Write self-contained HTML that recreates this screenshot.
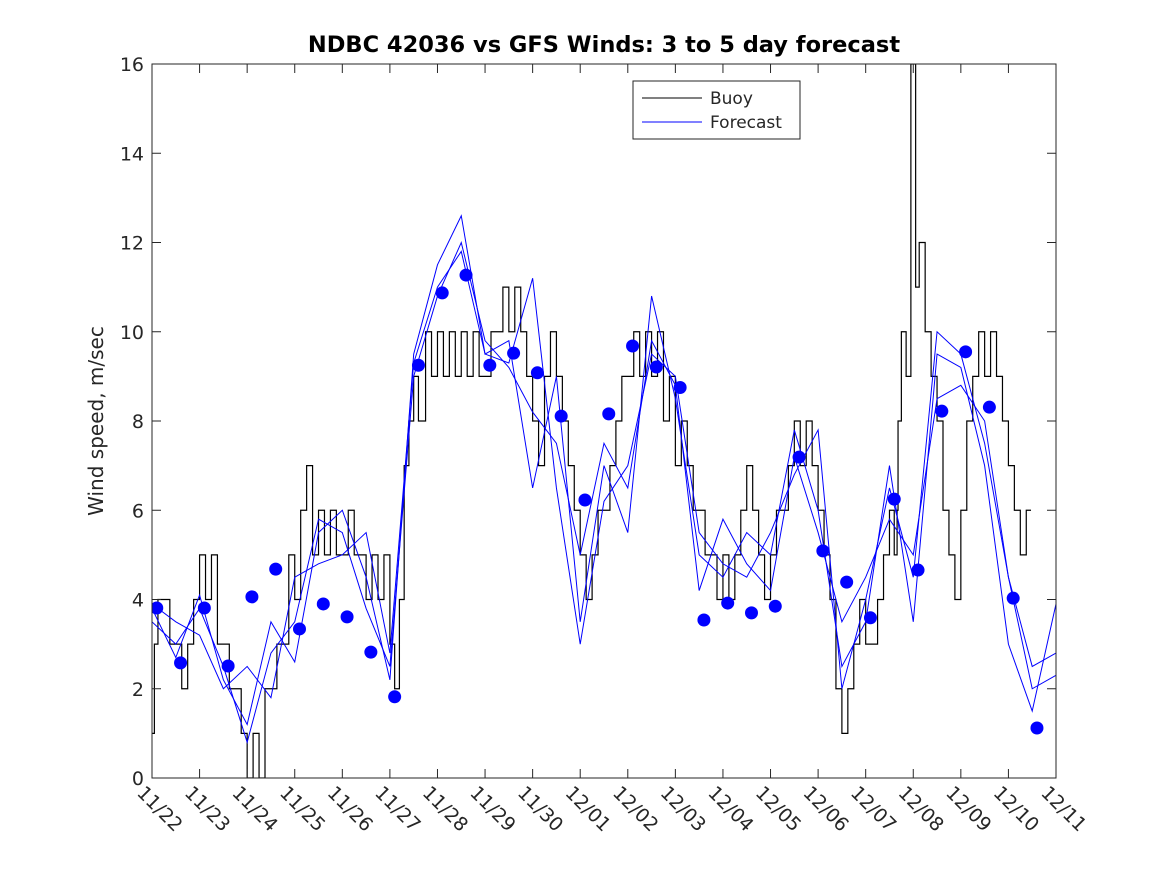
<!DOCTYPE html>
<html><head><meta charset="utf-8"><style>
body{margin:0;background:#fff;}
svg{display:block;font-family:"DejaVu Sans","Liberation Sans",sans-serif;}
</style></head><body>
<svg id="chart" width="1167" height="875">
<rect x="0" y="0" width="1167" height="875" fill="#fff"/>
<text x="604" y="52" text-anchor="middle" font-size="22.5" font-weight="bold">NDBC 42036 vs GFS Winds: 3 to 5 day forecast</text>
<text transform="translate(103,421) rotate(-90)" text-anchor="middle" font-size="20" fill="#262626">Wind speed, m/sec</text>
<g id="plot"></g>
<g id="axes"></g>
<g>
<rect x="633" y="81" width="167" height="58" fill="#fff" stroke="#262626" stroke-width="1"/>
<line x1="642" y1="98" x2="702" y2="98" stroke="#000" stroke-width="1"/>
<text x="710" y="104" font-size="17" fill="#262626">Buoy</text>
<line x1="642" y1="122" x2="702" y2="122" stroke="#0000ff" stroke-width="1"/>
<text x="710" y="128" font-size="17" fill="#262626">Forecast</text>
</g>
</svg>
<script>
const xTickLabels=["11/22","11/23","11/24","11/25","11/26","11/27","11/28","11/29","11/30","12/01","12/02","12/03","12/04","12/05","12/06","12/07","12/08","12/09","12/10","12/11"];
const yTicks=[0,2,4,6,8,10,12,14,16];
const dotTimes=[0.1,0.6,1.1,1.6,2.1,2.6,3.1,3.6,4.1,4.6,5.1,5.6,6.1,6.6,7.1,7.6,8.1,8.6,9.1,9.6,10.1,10.6,11.1,11.6,12.1,12.6,13.1,13.6,14.1,14.6,15.1,15.6,16.1,16.6,17.1,17.6,18.1,18.6];
const dotValues=[3.81,2.58,3.81,2.51,4.06,4.68,3.34,3.9,3.61,2.82,1.82,9.25,10.87,11.27,9.25,9.52,9.08,8.11,6.23,8.16,9.68,9.21,8.75,3.54,3.92,3.7,3.85,7.19,5.09,4.39,3.59,6.25,4.66,8.22,9.55,8.31,4.03,1.12];
const buoyTimes=[0,0.05,0.125,0.25,0.375,0.5,0.625,0.75,0.875,1.0,1.125,1.25,1.375,1.5,1.625,1.75,1.875,2.0,2.125,2.25,2.375,2.5,2.625,2.75,2.875,3.0,3.125,3.25,3.375,3.5,3.625,3.75,3.875,4.0,4.125,4.25,4.375,4.5,4.625,4.75,4.875,5.0,5.1,5.2,5.3,5.4,5.5,5.6,5.75,5.875,6.0,6.125,6.25,6.375,6.5,6.625,6.75,6.875,7.0,7.125,7.25,7.375,7.5,7.625,7.75,7.875,8.0,8.125,8.25,8.375,8.5,8.625,8.75,8.875,9.0,9.125,9.25,9.375,9.5,9.625,9.75,9.875,10.0,10.125,10.25,10.375,10.5,10.625,10.75,10.875,11.0,11.125,11.25,11.375,11.5,11.625,11.75,11.875,12.0,12.125,12.25,12.375,12.5,12.625,12.75,12.875,13.0,13.125,13.25,13.375,13.5,13.625,13.75,13.875,14.0,14.125,14.25,14.375,14.5,14.625,14.75,14.875,15.0,15.125,15.25,15.375,15.5,15.6,15.66,15.68,15.75,15.85,15.95,16.05,16.125,16.25,16.375,16.5,16.625,16.75,16.875,17.0,17.125,17.25,17.375,17.5,17.625,17.75,17.875,18.0,18.125,18.25,18.375];
const buoyValues=[1,3,4,4,3,3,2,3,4,5,4,5,3,3,2,2,1,0,1,0,2,2,3,3,5,4,6,7,5,6,5,6,5,5,6,5,5,4,5,4,5,3,2,4,7,8,9,8,10,9,10,9,10,9,10,9,10,9,9,10,10,11,10,11,10,9,8,7,9,10,9,8,7,6,5,4,5,6,6,7,8,9,9,10,9,10,9,10,8,9,7,8,7,6,6,5,5,4,5,4,5,6,7,6,5,4,5,6,6,7,8,7,8,7,6,5,4,2,1,2,3,4,3,3,4,5,6,5,6,8,10,9,16,11,12,10,9,8,6,5,4,6,8,9,10,9,10,9,8,7,6,5,6,5,4];
const f1Times=[0,0.5,1,1.5,2,2.5,3,3.5,4,4.5,5,5.5,6,6.5,7,7.5,8,8.5,9,9.5,10,10.5,11,11.5,12,12.5,13,13.5,14,14.5,15,15.5,16,16.5,17,17.5,18,18.5,19];
const f1Values=[3.8,2.7,4.1,2.2,1.2,3.5,2.6,5.5,6.0,4.5,2.2,9.5,11.5,12.6,9.5,9.8,6.5,9.0,3.5,7.0,5.5,10.8,8.5,5.0,4.5,5.5,5.0,7.8,6.0,2.5,3.5,7.0,3.5,9.5,9.2,7.0,3.0,1.5,3.9];
const f2Values=[3.5,3.0,3.8,2.5,0.8,2.8,3.5,5.8,5.5,3.8,2.5,9.0,10.8,12.0,9.8,9.2,8.2,7.5,5.0,7.5,6.5,9.8,8.8,4.2,5.8,4.8,4.2,7.2,5.5,3.5,4.5,5.8,5.0,8.5,8.8,8.0,4.5,2.5,2.8];
const f3Values=[3.9,3.5,3.2,2.0,2.5,1.8,4.5,4.8,5.0,5.5,2.8,9.3,11.0,11.8,9.5,9.3,11.2,6.5,3.0,6.2,7.0,9.5,9.0,5.5,4.8,4.5,5.5,6.8,7.8,2.0,4.0,6.5,4.5,10.0,9.5,7.5,4.5,2.0,2.3];
const X0=152,X1=1056,Y0=778,Y1=64;
const xs=t=>X0+(X1-X0)*t/19;
const ys=v=>Y0-(Y0-Y1)*v/16;
const NS="http://www.w3.org/2000/svg";
const plot=document.getElementById('plot'),axes=document.getElementById('axes');
function mk(tag,attrs,parent){const e=document.createElementNS(NS,tag);for(const k in attrs)e.setAttribute(k,attrs[k]);parent.appendChild(e);return e;}
const clip=mk('clipPath',{id:'pc'},plot);mk('rect',{x:X0,y:Y1,width:X1-X0,height:Y0-Y1},clip);
const g=mk('g',{'clip-path':'url(#pc)'},plot);
let d='';
for(let i=0;i<buoyTimes.length;i++){const x=xs(buoyTimes[i]),y=ys(buoyValues[i]);if(i===0)d+='M'+x+','+y;else d+='H'+x+'V'+y;}
d+='H'+xs(buoyTimes[buoyTimes.length-1]+0.1);
const bl=mk('path',{d:d,fill:'none',stroke:'#000','stroke-width':1.2},g);


[f1Values,f2Values,f3Values].forEach((vals,k)=>{
  const pts=vals.map((v,i)=>xs(f1Times[i])+','+ys(v)).join(' ');
  const pl=mk('polyline',{points:pts,fill:'none',stroke:'#0000ff','stroke-width':1},g);
  
  
});
dotValues.forEach((v,i)=>{
  const c=mk('circle',{cx:xs(dotTimes[i]),cy:ys(v),r:6.5,fill:'#0000ff'},g);
  
  
});
const fr=mk('rect',{x:X0,y:Y1,width:X1-X0,height:Y0-Y1,fill:'none',stroke:'#262626','stroke-width':1},axes);


yTicks.forEach(v=>{
  const y=ys(v);
  mk('line',{x1:X0,y1:y,x2:X0+9,y2:y,stroke:'#262626'},axes);
  mk('line',{x1:X1,y1:y,x2:X1-9,y2:y,stroke:'#262626'},axes);
  const t=mk('text',{x:X0-8,y:y+7,'text-anchor':'end','font-size':19,fill:'#262626'},axes);
  t.textContent=v;
  
  
});
xTickLabels.forEach((lab,i)=>{
  const x=xs(i);
  mk('line',{x1:x,y1:Y0,x2:x,y2:Y0-9,stroke:'#262626'},axes);
  mk('line',{x1:x,y1:Y1,x2:x,y2:Y1+9,stroke:'#262626'},axes);
  const t=mk('text',{x:0,y:0,'font-size':19,fill:'#262626',transform:'translate('+(x-16)+','+(Y0+16)+') rotate(45)'},axes);
  t.textContent=lab;
  
  
});
</script>
</body></html>
